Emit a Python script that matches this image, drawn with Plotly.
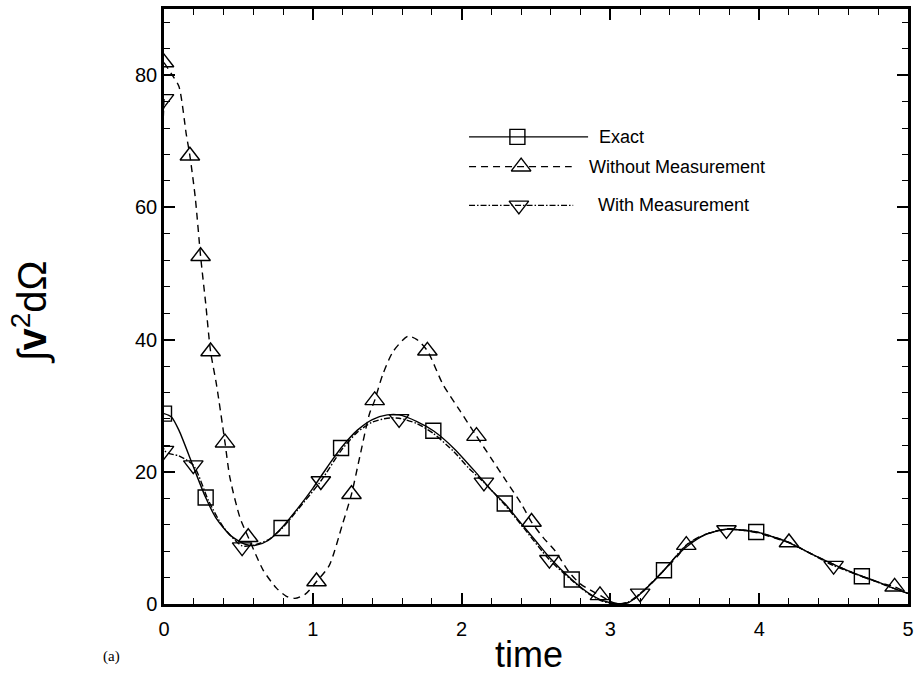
import plotly.graph_objects as go

# ---- curves: time vs. integral of |v|^2 over the domain ----
t_exact = [0.0, 0.05, 0.1, 0.2, 0.28, 0.35, 0.45, 0.55, 0.62, 0.7, 0.79, 0.9, 1.0, 1.1,
           1.19, 1.3, 1.4, 1.5, 1.58, 1.7, 1.81, 1.95, 2.1, 2.2, 2.29, 2.4, 2.5, 2.6,
           2.74, 2.85, 2.95, 3.05, 3.12, 3.2, 3.28, 3.36, 3.45, 3.55, 3.65, 3.78, 3.88,
           3.98, 4.1, 4.2, 4.35, 4.5, 4.6, 4.69, 4.8, 4.9, 5.0]
e_exact = [28.8, 28.3, 26.3, 20.6, 16.1, 13.0, 10.3, 9.0, 8.9, 9.6, 11.5, 14.5, 17.5, 20.8,
           23.6, 26.3, 27.9, 28.6, 28.6, 27.6, 26.2, 23.5, 19.8, 17.2, 15.2, 12.2, 9.5, 6.8,
           3.7, 1.7, 0.5, 0.05, 0.2, 1.5, 3.2, 5.1, 7.4, 9.3, 10.6, 11.3, 11.2,
           10.9, 10.1, 9.3, 7.6, 6.0, 5.0, 4.2, 3.3, 2.4, 1.6]

t_without = [0.0, 0.05, 0.1, 0.15, 0.174, 0.21, 0.246, 0.28, 0.313, 0.354, 0.41, 0.443,
             0.51, 0.566, 0.667, 0.756, 0.82, 0.88, 0.95, 1.025, 1.11, 1.2, 1.26, 1.315,
             1.38, 1.416, 1.47, 1.54, 1.64, 1.7, 1.77, 1.875, 1.99, 2.1, 2.2, 2.3, 2.4,
             2.47, 2.55, 2.63, 2.72, 2.8, 2.93, 3.0, 3.05, 3.12, 3.2, 3.28, 3.36, 3.45,
             3.51, 3.6, 3.7, 3.8, 3.9, 4.0, 4.1, 4.2, 4.35, 4.5, 4.65, 4.8, 4.91, 5.0]
e_without = [81.9, 80.2, 78.3, 71.0, 67.8, 61.5, 52.6, 45.5, 38.2, 33.0, 24.4, 19.1,
             13.1, 10.1, 5.1, 2.4, 1.2, 0.85, 1.5, 3.4, 5.8, 12.1, 16.6, 22.2,
             28.7, 30.8, 34.7, 38.2, 40.5, 40.0, 38.3, 33.2, 29.2, 25.4, 22.0, 18.6, 15.2,
             12.4, 10.0, 8.0, 4.9, 3.0, 1.3, 0.4, 0.05, 0.2, 1.5, 3.2, 5.1, 7.2,
             8.9, 10.2, 11.0, 11.4, 11.1, 10.7, 10.0, 9.3, 7.6, 6.0, 4.5, 3.3, 2.6, 1.6]

t_with = [0.0, 0.004, 0.1, 0.197, 0.3, 0.4, 0.525, 0.6, 0.7, 0.8, 0.9, 1.054, 1.19, 1.3,
          1.4, 1.5, 1.58, 1.7, 1.81, 1.95, 2.05, 2.15, 2.29, 2.4, 2.59, 2.74, 2.85, 2.95,
          3.05, 3.12, 3.2, 3.36, 3.51, 3.65, 3.78, 3.98, 4.2, 4.5, 4.69, 4.9, 5.0]
e_with = [76.4, 23.2, 22.4, 21.0, 15.6, 11.6, 8.8, 8.9, 9.7, 11.6, 14.3, 18.6, 23.2, 26.0,
          27.5, 28.1, 28.1, 27.3, 25.8, 23.0, 20.5, 18.4, 15.0, 12.0, 6.7, 3.6, 1.6, 0.4,
          0.0, 0.3, 1.6, 5.1, 8.9, 10.6, 11.3, 10.9, 9.3, 5.8, 4.2, 2.4, 1.6]

# ---- symbols placed along each curve ----
mk_t_exact = [0.0, 0.28, 0.79, 1.19, 1.81, 2.29, 2.74, 3.36, 3.98, 4.69]
mk_e_exact = [28.8, 16.1, 11.5, 23.6, 26.2, 15.2, 3.7, 5.1, 10.9, 4.2]

mk_t_without = [0.0, 0.174, 0.246, 0.313, 0.41, 0.566, 1.025, 1.26, 1.416, 1.77, 2.1,
                2.47, 2.93, 3.51, 4.2, 4.91]
mk_e_without = [81.9, 67.8, 52.6, 38.2, 24.4, 10.1, 3.4, 16.6, 30.8, 38.3, 25.4,
                12.4, 1.3, 8.9, 9.3, 2.6]

mk_t_with = [0.0, 0.0, 0.197, 0.525, 1.054, 1.58, 2.15, 2.59, 3.2, 3.78, 4.5]
mk_e_with = [76.4, 23.2, 21.0, 8.6, 18.6, 28.0, 18.4, 6.7, 1.6, 11.2, 5.8]

series_names = ["Exact", "Without Measurement", "With Measurement"]
series_dash = ["solid", "7px,5px", "6px,2px,1.5px,2px"]
series_symbol = ["square-open", "triangle-up-open", "triangle-down-open"]
series_symsize = [15, 17, 17]

x_ticks = [0, 1, 2, 3, 4, 5]
y_ticks = [0, 20, 40, 60, 80]

FONT = "Liberation Sans, Arial, Helvetica, sans-serif"

curves = [(t_exact, e_exact, mk_t_exact, mk_e_exact),
          (t_without, e_without, mk_t_without, mk_e_without),
          (t_with, e_with, mk_t_with, mk_e_with)]

fig = go.Figure()
for (tx, ey, mx, my), dash, sym, ssz in zip(curves, series_dash, series_symbol, series_symsize):
    fig.add_trace(go.Scatter(
        x=tx, y=ey, mode="lines",
        line=dict(color="black", width=1.4, dash=dash, shape="spline", smoothing=0.7),
        showlegend=False, hoverinfo="skip"))
    fig.add_trace(go.Scatter(
        x=mx, y=my, mode="markers",
        marker=dict(symbol=sym, size=ssz, color="black", line=dict(width=1.4, color="black")),
        showlegend=False, hoverinfo="skip"))

# ---- hand-drawn key (line, symbol, label) on an overlay axis in plot-fraction units ----
key_rows_y = [0.785, 0.735, 0.67]
key_line_x0 = [0.41, 0.41, 0.41]
key_line_x1 = [0.57, 0.548, 0.55]
key_sym_x = [0.475, 0.48, 0.477]
key_text_x = [0.582, 0.568, 0.58]
for i, name in enumerate(series_names):
    ry = key_rows_y[i]
    fig.add_shape(type="line", xref="x2", yref="y2", x0=key_line_x0[i], x1=key_line_x1[i],
                  y0=ry, y1=ry, line=dict(color="black", width=1.2, dash=series_dash[i]))
    fig.add_trace(go.Scatter(
        x=[key_sym_x[i]], y=[ry], xaxis="x2", yaxis="y2", mode="markers",
        marker=dict(symbol=series_symbol[i], size=series_symsize[i], color="black",
                    line=dict(width=1.4, color="black")),
        showlegend=False, hoverinfo="skip"))
    fig.add_annotation(x=key_text_x[i], y=ry, xref="x2", yref="y2", text=name,
                       showarrow=False, xanchor="left", yanchor="middle",
                       font=dict(family=FONT, size=18, color="black"))

axis_common = dict(
    showline=True, linecolor="black", linewidth=2.5, mirror="ticks",
    ticks="inside", ticklen=11, tickwidth=1.5, tickcolor="black",
    showgrid=False, zeroline=False,
    tickfont=dict(family=FONT, size=20, color="black"),
)

fig.update_layout(
    width=920, height=690,
    margin=dict(l=164, r=11, t=6, b=86),
    paper_bgcolor="white", plot_bgcolor="white",
    showlegend=False,
    xaxis=dict(range=[0, 5], tickvals=x_ticks, ticklabelstandoff=5,
               minor=dict(dtick=0.2, ticks="inside", ticklen=6, tickwidth=1.2, tickcolor="black"),
               **axis_common),
    yaxis=dict(range=[0, 90], tickvals=y_ticks,
               minor=dict(dtick=4, ticks="inside", ticklen=6, tickwidth=1.2, tickcolor="black"),
               **axis_common),
    xaxis2=dict(range=[0, 1], overlaying="x", visible=False, fixedrange=True),
    yaxis2=dict(range=[0, 1], overlaying="y", visible=False, fixedrange=True),
)

# axis titles and panel tag
fig.add_annotation(x=0.49, y=-0.085, xref="paper", yref="paper", text="time",
                   showarrow=False, xanchor="center", yanchor="middle",
                   font=dict(family=FONT, size=36, color="black"))
fig.add_annotation(x=-0.18, y=0.49, xref="paper", yref="paper",
                   text="\u222b<b>v</b><sup>2</sup>d\u03a9", textangle=-90,
                   showarrow=False, xanchor="center", yanchor="middle",
                   font=dict(family=FONT, size=40, color="black"))
fig.add_annotation(x=-0.07, y=-0.089, xref="paper", yref="paper", text="(a)",
                   showarrow=False, xanchor="center", yanchor="middle",
                   font=dict(family="Liberation Serif, Times New Roman, serif", size=15, color="black"))

fig.write_html("out.html")
